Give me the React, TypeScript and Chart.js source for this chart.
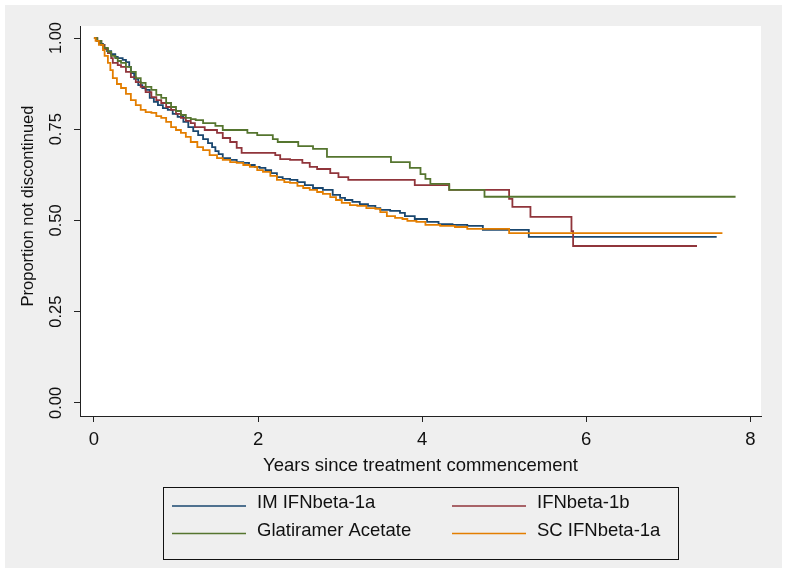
import React, { useEffect, useRef } from 'react';
import { Chart, registerables } from 'chart.js';

Chart.register(...registerables);

const FONT = "'Liberation Sans', Arial, Helvetica, sans-serif";

const seriesLabels = ['IM IFNbeta-1a', 'IFNbeta-1b', 'Glatiramer Acetate', 'SC IFNbeta-1a'];
const seriesColors = ['#1a476f', '#90353b', '#55752f', '#e37e00'];

const xTicks = [0, 2, 4, 6, 8];
const yTicks = [0, 0.25, 0.5, 0.75, 1];
const xTitle = 'Years since treatment commencement';
const yTitle = 'Proportion not discontinued';

// IM IFNbeta-1a (Kaplan-Meier estimates)
const imYears = [0, 0.04, 0.07, 0.11, 0.16, 0.21, 0.26, 0.29, 0.35, 0.39, 0.43, 0.45, 0.49, 0.54, 0.59, 0.63, 0.68, 0.73, 0.78, 0.84, 0.9, 0.96, 1.02, 1.09, 1.15, 1.21, 1.27, 1.33, 1.39, 1.44, 1.48, 1.52, 1.57, 1.66, 1.74, 1.82, 1.89, 1.96, 2.02, 2.09, 2.16, 2.23, 2.3, 2.39, 2.48, 2.57, 2.67, 2.79, 2.91, 3.0, 3.06, 3.15, 3.24, 3.34, 3.43, 3.49, 3.61, 3.73, 3.79, 3.91, 4.06, 4.2, 4.37, 4.55, 4.74, 5.3, 7.59];
const imSurv = [1, 0.992, 0.984, 0.973, 0.964, 0.956, 0.948, 0.945, 0.94, 0.934, 0.921, 0.904, 0.888, 0.871, 0.863, 0.858, 0.836, 0.825, 0.816, 0.808, 0.803, 0.792, 0.784, 0.77, 0.756, 0.745, 0.734, 0.723, 0.712, 0.701, 0.69, 0.682, 0.671, 0.666, 0.66, 0.658, 0.652, 0.647, 0.644, 0.638, 0.63, 0.619, 0.614, 0.611, 0.605, 0.597, 0.589, 0.584, 0.57, 0.562, 0.556, 0.551, 0.545, 0.54, 0.534, 0.529, 0.526, 0.521, 0.512, 0.504, 0.496, 0.49, 0.488, 0.485, 0.474, 0.455, 0.455];

// IFNbeta-1b
const b1bYears = [0, 0.04, 0.09, 0.13, 0.17, 0.21, 0.23, 0.29, 0.33, 0.39, 0.45, 0.51, 0.57, 0.63, 0.7, 0.76, 0.82, 0.88, 0.94, 1.0, 1.06, 1.12, 1.18, 1.23, 1.35, 1.5, 1.57, 1.66, 1.74, 1.8, 2.21, 2.27, 2.39, 2.54, 2.63, 2.72, 2.88, 2.98, 3.1, 3.91, 4.33, 5.06, 5.1, 5.32, 5.82, 5.84, 7.35];
const b1bSurv = [1, 0.992, 0.981, 0.97, 0.959, 0.945, 0.932, 0.926, 0.921, 0.907, 0.893, 0.879, 0.866, 0.852, 0.838, 0.83, 0.822, 0.811, 0.803, 0.792, 0.781, 0.773, 0.767, 0.756, 0.748, 0.74, 0.726, 0.715, 0.699, 0.685, 0.679, 0.668, 0.666, 0.658, 0.647, 0.641, 0.63, 0.619, 0.611, 0.597, 0.584, 0.559, 0.537, 0.51, 0.471, 0.43, 0.43];

// Glatiramer Acetate
const gaYears = [0, 0.04, 0.09, 0.12, 0.17, 0.21, 0.26, 0.29, 0.33, 0.39, 0.45, 0.51, 0.57, 0.63, 0.7, 0.76, 0.82, 0.88, 0.94, 1.0, 1.06, 1.12, 1.18, 1.24, 1.33, 1.48, 1.57, 1.87, 1.99, 2.18, 2.24, 2.49, 2.67, 2.84, 3.62, 3.85, 3.98, 4.04, 4.1, 4.33, 4.76, 7.82];
const gaSurv = [1, 0.992, 0.981, 0.973, 0.962, 0.951, 0.945, 0.937, 0.932, 0.921, 0.907, 0.89, 0.877, 0.866, 0.858, 0.844, 0.836, 0.822, 0.811, 0.8, 0.789, 0.781, 0.778, 0.775, 0.767, 0.759, 0.748, 0.74, 0.734, 0.723, 0.715, 0.704, 0.696, 0.674, 0.66, 0.644, 0.627, 0.614, 0.6, 0.584, 0.565, 0.565];

// SC IFNbeta-1a
const scYears = [0, 0.02, 0.06, 0.11, 0.13, 0.17, 0.2, 0.23, 0.28, 0.33, 0.39, 0.45, 0.51, 0.57, 0.63, 0.7, 0.76, 0.82, 0.88, 0.94, 1.0, 1.06, 1.12, 1.18, 1.26, 1.33, 1.41, 1.5, 1.57, 1.66, 1.74, 1.82, 1.9, 1.99, 2.06, 2.15, 2.23, 2.32, 2.39, 2.48, 2.55, 2.63, 2.72, 2.79, 2.88, 2.95, 3.02, 3.12, 3.21, 3.32, 3.43, 3.49, 3.57, 3.67, 3.76, 3.82, 3.93, 4.04, 4.22, 4.4, 4.55, 5.06, 7.66];
const scSurv = [1, 0.992, 0.981, 0.967, 0.951, 0.932, 0.912, 0.89, 0.874, 0.863, 0.847, 0.83, 0.816, 0.803, 0.797, 0.795, 0.786, 0.781, 0.77, 0.756, 0.748, 0.74, 0.729, 0.715, 0.701, 0.693, 0.679, 0.671, 0.666, 0.66, 0.658, 0.652, 0.647, 0.638, 0.633, 0.622, 0.611, 0.605, 0.603, 0.595, 0.589, 0.584, 0.578, 0.573, 0.564, 0.556, 0.548, 0.542, 0.54, 0.534, 0.532, 0.523, 0.512, 0.507, 0.504, 0.499, 0.496, 0.488, 0.485, 0.482, 0.477, 0.465, 0.465];

const seriesYears = [imYears, b1bYears, gaYears, scYears];
const seriesSurv = [imSurv, b1bSurv, gaSurv, scSurv];
const drawOrder = [3, 2, 1, 0]; // later Stata series drawn on top

const frameAndLegend = {
  id: 'frameAndLegend',
  beforeDraw(chart: any) {
    const { ctx, chartArea: a, width, height } = chart;
    ctx.save();
    ctx.fillStyle = '#ffffff';
    ctx.fillRect(0, 0, width, height);
    ctx.fillStyle = '#efefef';
    ctx.fillRect(5, 5, 777, 563);
    ctx.fillStyle = '#ffffff';
    ctx.fillRect(a.left, a.top, a.right - a.left, a.bottom - a.top);
    ctx.restore();
  },
  afterDraw(chart: any) {
    const { ctx } = chart;
    ctx.save();
    // y-axis title
    ctx.translate(28.5, 206);
    ctx.rotate(-Math.PI / 2);
    ctx.font = `16.5px ${FONT}`;
    ctx.fillStyle = '#111';
    ctx.textAlign = 'center';
    ctx.textBaseline = 'middle';
    ctx.fillText(yTitle, 0, 0);
    ctx.restore();

    // legend box
    ctx.save();
    ctx.strokeStyle = '#111';
    ctx.lineWidth = 1;
    ctx.strokeRect(163.5, 487.5, 515, 72);
    ctx.font = `18.5px ${FONT}`;
    ctx.textAlign = 'left';
    ctx.textBaseline = 'middle';
    chart.data.datasets.forEach((ds: any, i: number) => {
      const col = i % 2;
      const row = Math.floor(i / 2);
      const x0 = col ? 452 : 172;
      const y = row ? 533.5 : 506;
      ctx.strokeStyle = ds.borderColor;
      ctx.lineWidth = 1.6;
      ctx.beginPath();
      ctx.moveTo(x0, y);
      ctx.lineTo(x0 + 74, y);
      ctx.stroke();
      ctx.fillStyle = '#111';
      ctx.fillText(ds.label, x0 + 85, y - 3);
    });
    ctx.restore();
  },
};

export default function App() {
  const ref = useRef<HTMLCanvasElement | null>(null);

  useEffect(() => {
    const canvas = ref.current;
    if (!canvas) return;
    const datasets = seriesLabels.map((label, i) => ({
      label,
      data: seriesYears[i].map((t, k) => ({ x: t, y: seriesSurv[i][k] })),
      borderColor: seriesColors[i],
      backgroundColor: seriesColors[i],
      borderWidth: 1.8,
      pointRadius: 0,
      stepped: 'before' as const,
      fill: false,
      order: drawOrder[i],
    }));

    const chart = new Chart(canvas, {
      type: 'line',
      data: { datasets },
      plugins: [frameAndLegend],
      options: {
        animation: false,
        responsive: false,
        devicePixelRatio: 1,
        layout: { padding: { left: 0, top: 26, right: 26, bottom: 0 } },
        plugins: { legend: { display: false }, tooltip: { enabled: false } },
        scales: {
          x: {
            type: 'linear',
            min: -0.17,
            max: 8.13,
            afterFit: (s: any) => { s.height = 158; },
            afterBuildTicks: (s: any) => { s.ticks = xTicks.map((v) => ({ value: v })); },
            grid: { display: true, drawOnChartArea: false, drawTicks: true, tickLength: 6, color: '#222', lineWidth: 1 },
            border: { display: true, color: '#222', width: 1 },
            ticks: {
              color: '#111',
              padding: 7,
              maxRotation: 0,
              font: { family: FONT, size: 18.5 },
              callback: (v: any) => String(v),
            },
            title: {
              display: true,
              text: xTitle,
              color: '#111',
              font: { family: FONT, size: 18.5 },
              padding: { top: 0, bottom: 97 },
            },
          },
          y: {
            type: 'linear',
            min: -0.036,
            max: 1.033,
            afterFit: (s: any) => { s.width = 80; },
            afterBuildTicks: (s: any) => { s.ticks = yTicks.map((v) => ({ value: v })); },
            grid: { display: true, drawOnChartArea: false, drawTicks: true, tickLength: 6, color: '#222', lineWidth: 1 },
            border: { display: true, color: '#222', width: 1 },
            ticks: {
              color: '#111',
              padding: 1,
              minRotation: 90,
              maxRotation: 90,
              crossAlign: 'center',
              font: { family: FONT, size: 16.5 },
              callback: (v: any) => Number(v).toFixed(2),
            },
          },
        },
      },
    });
    return () => chart.destroy();
  }, []);

  return (
    <div style={{ position: 'fixed', left: 0, top: 0, width: 787, height: 574, background: '#fff' }}>
      <canvas ref={ref} width={787} height={574} style={{ display: 'block', width: 787, height: 574 }} />
    </div>
  );
}
